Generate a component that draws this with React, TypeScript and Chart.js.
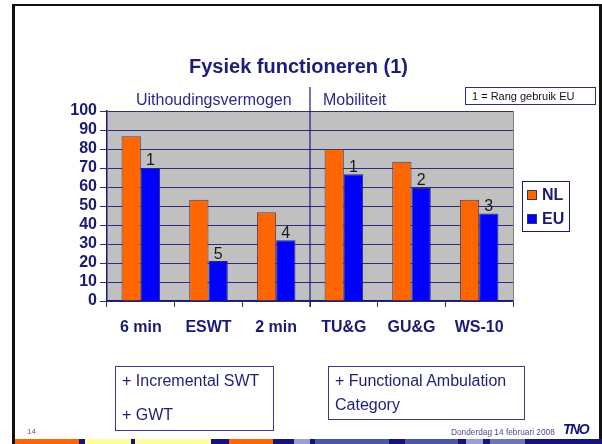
import React, { useEffect, useRef } from "react";
import { Chart, registerables } from "chart.js";

Chart.register(...registerables);

const categories = ["6 min", "ESWT", "2 min", "TU&G", "GU&G", "WS-10"];
const nlValues = [86.7, 53.3, 46.7, 80, 73.3, 53.3];
const euValues = [70, 21, 32, 66.7, 59.5, 46];
const euRanks = ["1", "5", "4", "1", "2", "3"];
const seriesNames = ["NL", "EU"];
const seriesColors = ["#ff6600", "#0000ff"];
const yMin = 0;
const yMax = 100;
const yStep = 10;

const FONT = 'Arial, "Liberation Sans", sans-serif';
const NAVY = "#1a1a72";
const GRID = "#2c2c80";

const stripe: [number, number, string][] = [
  [15, 79, "#ff6600"], [79, 85, "#14147a"], [85, 131, "#ffff99"], [131, 135, "#14147a"],
  [135, 211, "#ffff99"], [211, 229, "#14147a"], [229, 273, "#ff6600"], [273, 294, "#14147a"],
  [294, 310, "#9aa0cc"], [310, 315, "#14147a"], [315, 389, "#4a5aa0"], [389, 405, "#14147a"],
  [405, 458, "#4a5aa0"], [458, 466, "#14147a"], [466, 483, "#9aa0cc"], [483, 490, "#14147a"],
  [490, 525, "#6a78b4"], [525, 602, "#14147a"],
];

const bgPlugin = {
  id: "plotBg",
  beforeDraw(chart: any) {
    const { ctx, chartArea: a } = chart;
    ctx.save();
    ctx.fillStyle = "#c0c0c0";
    ctx.fillRect(a.left, a.top, a.right - a.left, a.bottom - a.top);
    ctx.restore();
  },
  afterDraw(chart: any) {
    const { ctx, chartArea: a } = chart;
    const xs = chart.scales.x;
    ctx.save();
    ctx.strokeStyle = "#808080";
    ctx.lineWidth = 1;
    ctx.beginPath();
    ctx.moveTo(a.right + 0.5, a.top);
    ctx.lineTo(a.right + 0.5, a.bottom);
    ctx.stroke();
    const dx = (xs.getPixelForTick(2) + xs.getPixelForTick(3)) / 2;
    ctx.strokeStyle = NAVY;
    ctx.lineWidth = 1.2;
    ctx.beginPath();
    ctx.moveTo(dx, 87);
    ctx.lineTo(dx, a.bottom + 6);
    ctx.stroke();
    ctx.restore();
  },
  afterDatasetsDraw(chart: any) {
    const { ctx } = chart;
    const meta = chart.getDatasetMeta(1);
    ctx.save();
    ctx.fillStyle = "#1a1a1a";
    ctx.font = `16px ${FONT}`;
    ctx.textAlign = "center";
    ctx.textBaseline = "bottom";
    meta.data.forEach((el: any, i: number) => {
      ctx.fillText(euRanks[i], el.x, el.y + 1);
    });
    ctx.restore();
  },
};

function ChartCanvas() {
  const ref = useRef<HTMLCanvasElement | null>(null);
  useEffect(() => {
    if (!ref.current) return;
    const chart = new Chart(ref.current, {
      type: "bar",
      data: {
        labels: categories,
        datasets: [
          { label: seriesNames[0], data: nlValues, backgroundColor: seriesColors[0], borderColor: "#4a3a6a", borderWidth: 1 },
          { label: seriesNames[1], data: euValues, backgroundColor: seriesColors[1], borderColor: "#2a2a6a", borderWidth: 1 },
        ],
      },
      options: {
        animation: false,
        responsive: false,
        layout: { padding: { left: 0, top: 111, right: 89, bottom: 103 } },
        datasets: { bar: { categoryPercentage: 0.57, barPercentage: 1 } },
        plugins: { legend: { display: false }, tooltip: { enabled: false }, title: { display: false } },
        scales: {
          x: {
            afterFit: (s: any) => { s.height = 40; },
            grid: { drawOnChartArea: false, tickLength: 6, color: GRID, offset: true },
            border: { color: NAVY, width: 1.5 },
            ticks: { color: NAVY, font: { family: FONT, size: 16, weight: "bold" }, padding: 11, autoSkip: false, maxRotation: 0 },
          },
          y: {
            min: yMin,
            max: yMax,
            afterFit: (s: any) => { s.width = 107; },
            grid: { color: GRID, lineWidth: 1, tickLength: 7 },
            border: { color: NAVY, width: 1.5 },
            ticks: { stepSize: yStep, autoSkip: false, color: NAVY, font: { family: FONT, size: 16, weight: "bold" }, padding: 3 },
          },
        },
      },
      plugins: [bgPlugin],
    });
    return () => chart.destroy();
  }, []);
  return <canvas ref={ref} width={602} height={444} style={{ position: "absolute", left: 0, top: 0 }} />;
}

const txt = (s: any): React.CSSProperties => ({ position: "absolute", fontFamily: FONT, lineHeight: 1, whiteSpace: "nowrap", ...s });

export default function App() {
  return (
    <div style={{ position: "absolute", left: 0, top: 0, width: 602, height: 444, background: "#fff", overflow: "hidden" }}>
      <ChartCanvas />
      <div style={{ position: "absolute", left: 12, top: 4, width: 590, height: 445, boxSizing: "border-box", borderLeft: "3px solid #111", borderTop: "2px solid #111", borderRight: "3px solid #111" }} />
      <div style={txt({ left: 0, width: 597, top: 56, textAlign: "center", fontSize: 20, fontWeight: "bold", color: "#1c1c7c" })}>Fysiek functioneren (1)</div>
      <div style={txt({ left: 136, top: 92, fontSize: 16, color: "#2a2a8a" })}>Uithoudingsvermogen</div>
      <div style={txt({ left: 323, top: 92, fontSize: 16, color: "#2a2a8a" })}>Mobiliteit</div>
      <div style={{ position: "absolute", left: 465, top: 87, width: 131, height: 18, boxSizing: "border-box", border: "1px solid #2a2a8a", background: "#fff", fontFamily: FONT, fontSize: 11, color: "#111", display: "flex", alignItems: "center", paddingLeft: 6 }}>1 = Rang gebruik EU</div>
      <div style={{ position: "absolute", left: 522, top: 181, width: 48, height: 51, boxSizing: "border-box", border: "1.5px solid #1a1a72", background: "#fff" }}>
        {seriesNames.map((n, i) => (
          <div key={n} style={{ position: "absolute", left: 4, top: 8 + i * 24, display: "flex", alignItems: "center" }}>
            <div style={{ width: 10, height: 10, boxSizing: "border-box", background: seriesColors[i], border: "1px solid #333366" }} />
            <div style={{ marginLeft: 5, fontFamily: FONT, fontSize: 16, fontWeight: "bold", color: NAVY, lineHeight: "10px" }}>{n}</div>
          </div>
        ))}
      </div>
      <div style={{ position: "absolute", left: 115, top: 366, width: 159, height: 65, boxSizing: "border-box", border: "1.5px solid #3a3a8a" }} />
      <div style={txt({ left: 122, top: 373, fontSize: 16, color: "#1e1e7a" })}>+ Incremental SWT</div>
      <div style={txt({ left: 122, top: 407, fontSize: 16, color: "#1e1e7a" })}>+ GWT</div>
      <div style={{ position: "absolute", left: 328, top: 366, width: 197, height: 54, boxSizing: "border-box", border: "1.5px solid #3a3a8a" }} />
      <div style={txt({ left: 335, top: 373, fontSize: 16, color: "#1e1e7a" })}>+ Functional Ambulation</div>
      <div style={txt({ left: 335, top: 397, fontSize: 16, color: "#1e1e7a" })}>Category</div>
      <div style={txt({ left: 27, top: 428, fontSize: 8, color: "#5a5aa0" })}>14</div>
      <div style={txt({ left: 451, top: 428, fontSize: 8.3, color: "#4a4a9a" })}>Donderdag 14 februari 2008</div>
      <div style={txt({ left: 563, top: 422, fontSize: 14, fontWeight: "bold", fontStyle: "italic", color: "#14147a", letterSpacing: -1.5 })}>TNO</div>
      {stripe.map(([a, b, c], i) => (
        <div key={i} style={{ position: "absolute", left: a, top: 439, width: b - a, height: 5, background: c }} />
      ))}
    </div>
  );
}
